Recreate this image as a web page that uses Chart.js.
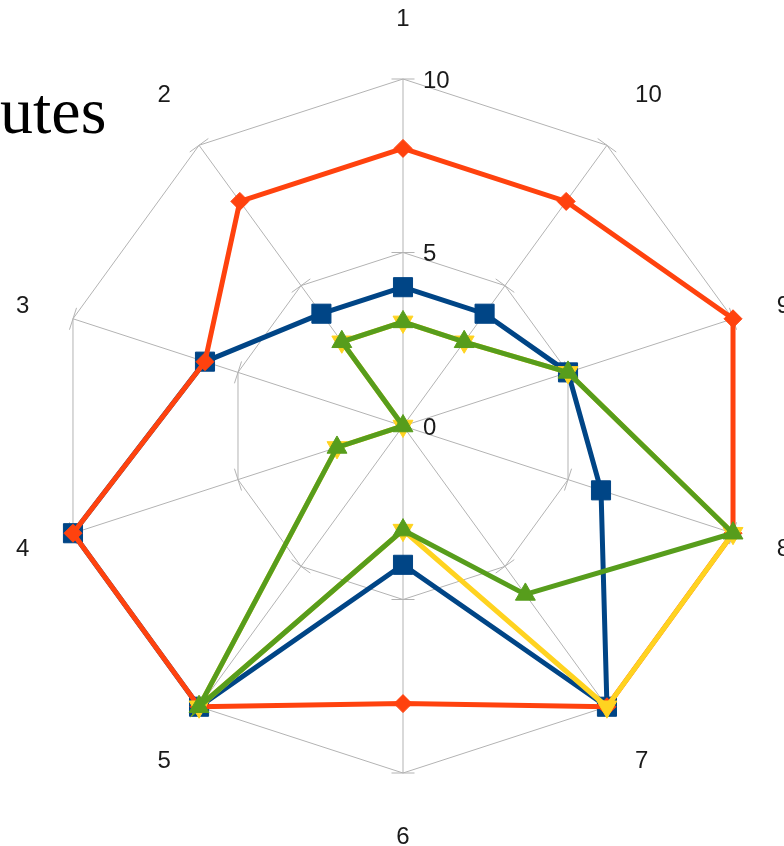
<!DOCTYPE html>
<html><head><meta charset="utf-8">
<script src="https://cdn.jsdelivr.net/npm/chart.js@4.4.1/dist/chart.umd.min.js"></script>
<style>
html,body{margin:0;padding:0;background:#fff;overflow:hidden;}
#wrap{position:relative;width:784px;height:846px;overflow:hidden;}
#title{position:absolute;left:0;top:78px;font-family:"Liberation Serif","Times New Roman",serif;font-size:66px;line-height:66px;color:#000;white-space:nowrap;pointer-events:none;}
</style></head><body>
<div id="wrap"><canvas id="c" width="784" height="846"></canvas><div id="title">utes</div></div>
<script>
// ---- data ----
const categories = ['1','2','3','4','5','6','7','8','9','10'];
const tickValues = [0, 5, 10];
const seriesBlue   = [4, 4, 6, 10, 10, 4, 10, 6, 5, 4];
const seriesOrange = [8, 8, 6, 10, 10, 8, 10, 10, 10, 8];
const seriesYellow = [3, 3, 0, 2, 10, 3, 10, 10, 5, 3];
const seriesGreen  = [3, 3, 0, 2, 10, 3, 6, 10, 5, 3];

// reference runs counter-clockwise; Chart.js runs clockwise
const displayOrder = [0, 9, 8, 7, 6, 5, 4, 3, 2, 1];
const reorder = arr => displayOrder.map(i => arr[i]);
const displayLabels = reorder(categories);

const GRID = '#b3b3b3';
const TEXT = '#1a1a1a';
const LABEL_FONT = '24px "Liberation Sans", Arial, sans-serif';
const DIGIT_H = 17.2;

const radarDecor = {
  id: 'radarDecor',
  beforeDatasetsDraw(chart) {
    const s = chart.scales.r, ctx = chart.ctx;
    ctx.save();
    ctx.strokeStyle = GRID; ctx.lineWidth = 1;
    tickValues.forEach(v => {
      if (v === 0) return;
      const d = s.getDistanceFromCenterForValue(v);
      for (let i = 0; i < displayLabels.length; i++) {
        const p = s.getPointPosition(i, d);
        const px = -Math.sin(p.angle), py = Math.cos(p.angle);
        ctx.beginPath();
        ctx.moveTo(p.x - px * 11.5, p.y - py * 11.5);
        ctx.lineTo(p.x + px * 11.5, p.y + py * 11.5);
        ctx.stroke();
      }
    });
    ctx.restore();
  },
  afterDraw(chart) {
    const s = chart.scales.r, ctx = chart.ctx;
    ctx.save();
    ctx.font = LABEL_FONT;
    ctx.fillStyle = TEXT;
    ctx.textBaseline = 'alphabetic';
    // tick labels
    tickValues.forEach(v => {
      const d = s.getDistanceFromCenterForValue(v);
      ctx.textAlign = 'left';
      ctx.fillText(String(v), s.xCenter + 20, s.yCenter - d + DIGIT_H / 2);
    });
    // point labels
    for (let i = 0; i < displayLabels.length; i++) {
      const u = s.getPointPosition(i, 100);
      const dx = (u.x - s.xCenter) / 100, dy = (u.y - s.yCenter) / 100;
      const horiz = Math.abs(dy) < 0.5;
      const diag = !horiz && Math.abs(dx) > 0.1;
      const R = s.drawingArea + (horiz ? 46 : 53);
      const p = s.getPointPosition(i, R);
      ctx.textAlign = dx < -0.1 ? 'right' : (dx > 0.1 ? 'left' : 'center');
      let x = p.x - (diag ? Math.sign(dx) * 3 : 0);
      let y;
      if (horiz) y = p.y + DIGIT_H / 2;
      else if (dy < 0) y = p.y;
      else y = p.y + DIGIT_H + 1;
      ctx.fillText(displayLabels[i], x, y);
    }
    ctx.restore();
  }
};

function ds(label, values, color, style, radius, rotation) {
  return {
    label, data: reorder(values),
    borderColor: color, backgroundColor: color,
    borderWidth: 5, fill: false, tension: 0,
    pointStyle: style, pointRadius: radius, pointHoverRadius: radius,
    pointRotation: rotation || 0,
    pointBackgroundColor: color, pointBorderColor: color, pointBorderWidth: 1
  };
}

new Chart(document.getElementById('c'), {
  type: 'radar',
  data: {
    labels: displayLabels,
    datasets: [
      ds('Series 4', seriesGreen, '#579d1c', 'triangle', 11.5, 0),
      ds('Series 3', seriesYellow, '#ffd320', 'triangle', 11.5, 180),
      ds('Series 2', seriesOrange, '#ff420e', 'rectRot', 9, 0),
      ds('Series 1', seriesBlue, '#004586', 'rect', 13.5, 0)
    ]
  },
  options: {
    responsive: false,
    animation: false,
    events: [],
    layout: { padding: { left: 56, top: 79, right: 34, bottom: 73 } },
    plugins: { legend: { display: false }, title: { display: false }, tooltip: { enabled: false } },
    scales: {
      r: {
        min: 0, max: 10, beginAtZero: true,
        ticks: { display: false, stepSize: 5 },
        pointLabels: { display: false },
        grid: { color: GRID, lineWidth: 1, circular: false },
        angleLines: { display: true, color: GRID, lineWidth: 1 }
      }
    }
  },
  plugins: [radarDecor]
});
</script>
</body></html>
